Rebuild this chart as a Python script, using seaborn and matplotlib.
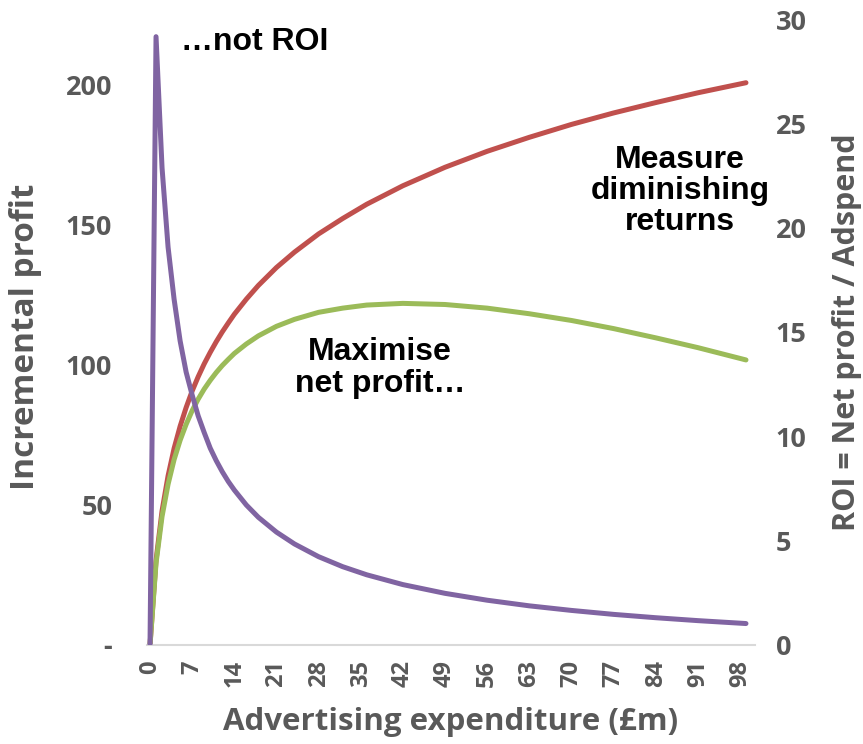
import pandas as pd
import matplotlib.pyplot as plt
import seaborn as sns

# values
adspend = [0, 1, 2, 3, 4, 5, 6, 7, 8, 9, 10, 11, 12, 13, 14, 16, 18, 21, 24,
           28, 32, 36, 42, 49, 56, 63, 70, 77, 84, 91, 99]
incremental_profit = [0, 30.2, 47.9, 60.4, 70.2, 78.1, 84.8, 90.7, 95.8, 100.4,
                      104.5, 108.3, 111.8, 115.0, 118.1, 123.5, 128.4, 134.8,
                      140.3, 146.8, 152.3, 157.4, 164.0, 170.6, 176.3, 181.3,
                      185.9, 190.0, 193.7, 197.2, 200.8]
net_profit = [0, 29.2, 45.9, 57.4, 66.2, 73.1, 78.8, 83.7, 87.8, 91.4, 94.5,
              97.3, 99.8, 102.0, 104.1, 107.5, 110.4, 113.8, 116.3, 118.8,
              120.3, 121.4, 122.0, 121.6, 120.3, 118.3, 115.9, 113.0, 109.7,
              106.2, 101.8]
roi = [0, 29.2, 22.9, 19.1, 16.6, 14.6, 13.1, 12.0, 11.0, 10.2, 9.45, 8.85,
       8.32, 7.85, 7.44, 6.72, 6.13, 5.42, 4.85, 4.24, 3.76, 3.37, 2.90, 2.48,
       2.15, 1.88, 1.66, 1.47, 1.31, 1.17, 1.03]
x_ticks = list(range(0, 99, 7))
left_ticks = [0, 50, 100, 150, 200]
left_tick_labels = ['-', '50', '100', '150', '200']
right_ticks = [0, 5, 10, 15, 20, 25, 30]

df = pd.DataFrame({'adspend': adspend, 'incremental': incremental_profit,
                   'net': net_profit, 'roi': roi})

sns.set_style('white')
plt.rcParams['font.family'] = ['Open Sans', 'DejaVu Sans']

grey = '#595959'
red, green, purple = '#C0504D', '#9BBB59', '#8064A2'

fig = plt.figure(figsize=(8.63, 7.44), dpi=100)
ax = fig.add_axes([147 / 863, 99 / 744, 608 / 863, 625 / 744])
ax2 = ax.twinx()

sns.lineplot(data=df, x='adspend', y='incremental', ax=ax, color=red, lw=3.6)
sns.lineplot(data=df, x='adspend', y='net', ax=ax, color=green, lw=3.6)
sns.lineplot(data=df, x='adspend', y='roi', ax=ax2, color=purple, lw=3.6)

ax.set_xlim(-0.5, 100.5)
ax.set_ylim(0, 223.2)
ax2.set_ylim(0, 30)

for a in (ax, ax2):
    for s in a.spines.values():
        s.set_visible(False)
ax.spines['bottom'].set_visible(True)
ax.spines['bottom'].set_color('#d9d9d9')
ax.spines['bottom'].set_linewidth(1.5)

ax.set_xticks(x_ticks)
ax.set_xticklabels([str(t) for t in x_ticks], rotation=90, fontsize=17,
                   fontweight='bold', color=grey)
ax.set_yticks(left_ticks)
ax.set_yticklabels(left_tick_labels, fontsize=19.5, fontweight='bold', color=grey)
ax2.set_yticks(right_ticks)
ax2.set_yticklabels([str(t) for t in right_ticks], fontsize=19.5,
                    fontweight='bold', color=grey)
ax.tick_params(axis='x', length=0, pad=11)
ax.tick_params(axis='y', length=0, pad=25)
ax2.tick_params(axis='y', length=0, pad=15)

ax.set_xlabel('Advertising expenditure (£m)', fontsize=22.5, fontweight='bold',
              color=grey)
ax.xaxis.set_label_coords(0.5, (645 - 707) / 625)
ax.set_ylabel('Incremental profit', fontsize=24, fontweight='bold', color=grey)
ax.yaxis.set_label_coords((42 - 147) / 608, (645 - 337) / 625)
ax2.set_ylabel('ROI = Net profit / Adspend', fontsize=22, fontweight='bold',
               color=grey, rotation=90)
ax2.yaxis.set_label_coords((832 - 147) / 608, (645 - 332) / 625)

ann = dict(fontsize=23, fontweight='bold', color='black',
           family=['Liberation Sans', 'DejaVu Sans'])
fig.text(181 / 863, 1 - 42 / 744, '…not ROI', ha='left', va='center', **ann)
fig.text(680 / 863, 1 - 191 / 744, 'Measure\ndiminishing\nreturns',
         ha='center', va='center', linespacing=1.05, **ann)
fig.text(380 / 863, 1 - 368 / 744, 'Maximise\nnet profit…',
         ha='center', va='center', linespacing=1.05, **ann)

fig.savefig('out.png', dpi=100)
